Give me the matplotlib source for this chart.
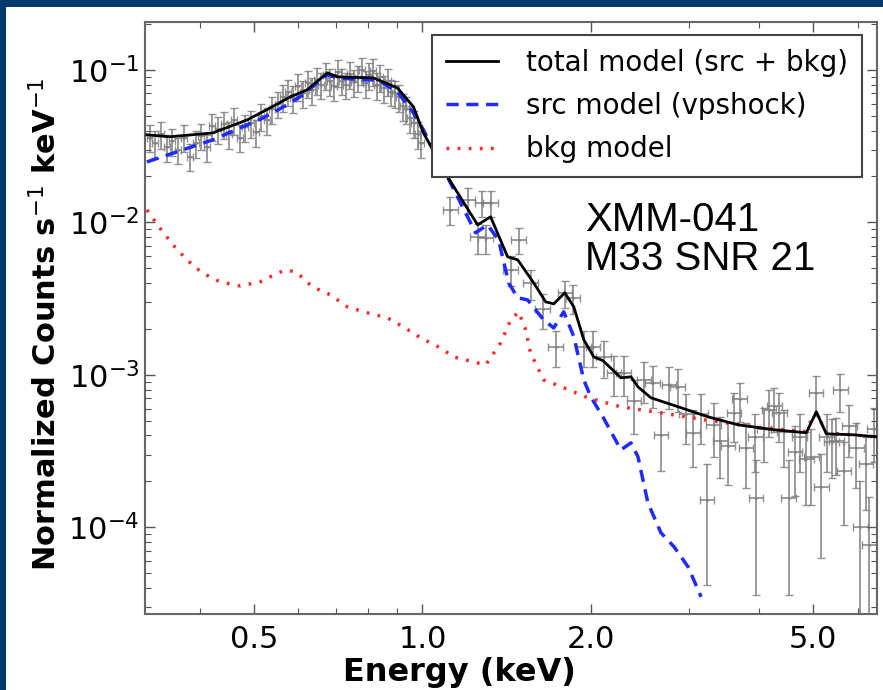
import numpy as np
import matplotlib
matplotlib.use("Agg")
import matplotlib.pyplot as plt
from matplotlib.patches import Rectangle
from matplotlib.ticker import FixedLocator, FixedFormatter, LogLocator, NullFormatter

# model curves (energy in keV, normalized counts s^-1 keV^-1)
tot_e = [0.3215, 0.3535, 0.422, 0.486, 0.534, 0.580, 0.622, 0.676, 0.704, 0.817, 0.902, 0.9636,
         1.004, 1.109, 1.255, 1.324, 1.420, 1.480, 1.581, 1.661, 1.717, 1.797, 1.865, 1.943, 2.025,
         2.102, 2.264, 2.360, 2.429, 2.562, 2.901, 3.242, 3.668, 4.256, 4.858, 5.063, 5.276, 5.922, 6.483]
tot_v = [0.0375, 0.0364, 0.0386, 0.047, 0.0563, 0.0665, 0.074, 0.0956, 0.090, 0.0886, 0.0762, 0.0572,
         0.0386, 0.0199, 0.00963, 0.01087, 0.00594, 0.00568, 0.00401, 0.00301, 0.00292, 0.00345, 0.00279,
         0.0017, 0.00131, 0.00124, 0.000956, 0.00097, 0.000834, 0.000707, 0.000608, 0.00053, 0.00047,
         0.000436, 0.000417, 0.000572, 0.00041, 0.000404, 0.000392]

src_e = [0.3215, 0.422, 0.519, 0.573, 0.612, 0.648, 0.676, 0.704, 0.784, 0.831, 0.902, 0.9636, 1.004,
         1.122, 1.245, 1.307, 1.368, 1.426, 1.480, 1.542, 1.647, 1.717, 1.789, 1.865, 1.943, 2.0,
         2.102, 2.264, 2.360, 2.429, 2.530, 2.670, 2.818, 2.986, 3.150]
src_v = [0.0249, 0.0348, 0.0484, 0.059, 0.0686, 0.0822, 0.0927, 0.0886, 0.086, 0.086, 0.0717, 0.0522,
         0.0404, 0.01816, 0.00853, 0.00963, 0.00768, 0.00401, 0.0032, 0.0031, 0.00229, 0.00203, 0.00259,
         0.00178, 0.000927, 0.000717, 0.00053, 0.000322, 0.000358, 0.00029, 0.000145, 9.2e-5, 7.45e-5,
         5.5e-5, 3.5e-5]

bkg_e = [0.3215, 0.339, 0.358, 0.379, 0.4034, 0.4345, 0.472, 0.5125, 0.552, 0.573, 0.597, 0.635, 0.684,
         0.734, 0.797, 0.866, 0.925, 0.992, 1.077, 1.137, 1.297, 1.380, 1.438, 1.486, 1.530, 1.561,
         1.647, 1.789, 1.976, 2.264, 2.670, 3.189, 3.920, 4.818, 5.063, 5.276, 6.483]
bkg_v = [0.01208, 0.0092, 0.00712, 0.00568, 0.00467, 0.00407, 0.00383, 0.00407, 0.00467, 0.00488,
         0.00467, 0.00378, 0.00335, 0.00279, 0.00255, 0.00236, 0.00206, 0.00175, 0.0015, 0.00131,
         0.00116, 0.00162, 0.00229, 0.00259, 0.00197, 0.00139, 0.000927, 0.000822, 0.000707, 0.000617,
         0.000563, 0.000507, 0.000456, 0.000423, 0.000563, 0.000417, 0.000392]

# observed spectrum
dat_e = [0.325, 0.333, 0.341, 0.349, 0.357, 0.366, 0.375, 0.384, 0.393, 0.402, 0.412, 0.421, 0.431,
         0.441, 0.451, 0.461, 0.471, 0.482, 0.493, 0.504, 0.515, 0.527, 0.539, 0.551, 0.563, 0.575,
         0.587, 0.599, 0.611, 0.623, 0.635, 0.647, 0.659, 0.671, 0.683, 0.695, 0.707, 0.719, 0.731,
         0.743, 0.755, 0.767, 0.779, 0.791, 0.803, 0.815, 0.828, 0.841, 0.854, 0.867, 0.880, 0.894,
         0.908, 0.922, 0.936, 0.950, 0.965, 0.980, 0.995,
         1.122, 1.204, 1.255, 1.280, 1.297, 1.324, 1.438, 1.486, 1.561, 1.64, 1.73, 1.80, 1.86,
         1.943, 2.02, 2.11, 2.20, 2.29, 2.39, 2.49, 2.58, 2.67, 2.76, 2.86, 2.96, 3.05, 3.15, 3.23,
         3.32, 3.41, 3.52, 3.61, 3.69, 3.79, 3.94, 3.95, 4.08, 4.17, 4.26, 4.35, 4.44, 4.52, 4.64,
         4.73, 4.86, 4.96, 5.06, 5.17, 5.28, 5.39, 5.50, 5.59, 5.68, 5.80, 5.97, 6.07, 6.22, 6.30, 6.43]
dat_v = [0.036, 0.033, 0.038, 0.031, 0.034, 0.030, 0.036, 0.027, 0.033, 0.037, 0.031, 0.043, 0.041,
         0.044, 0.038, 0.047, 0.036, 0.042, 0.045, 0.039, 0.050, 0.047, 0.055, 0.060, 0.066, 0.072,
         0.065, 0.078, 0.070, 0.082, 0.074, 0.086, 0.080, 0.092, 0.084, 0.078, 0.097, 0.085, 0.080,
         0.094, 0.083, 0.089, 0.100, 0.082, 0.092, 0.098, 0.079, 0.090, 0.076, 0.084, 0.072, 0.070,
         0.066, 0.058, 0.055, 0.048, 0.045, 0.038, 0.033,
         0.0121, 0.0141, 0.0080, 0.0134, 0.0079, 0.0134, 0.0049, 0.0077, 0.0040, 0.0027, 0.00153,
         0.00345, 0.0032,
         0.00153, 0.00153, 0.00131, 0.00103, 0.00103, 0.00067, 0.00093, 0.00088, 0.000404, 0.00086,
         0.00083, 0.00055, 0.000417, 0.00055, 0.000152, 0.00047, 0.00037, 0.00034, 0.00056, 0.00069,
         0.00033, 0.00039, 0.000156, 0.00044, 0.00059, 0.00062, 0.00056, 0.00042, 0.000156, 0.00031,
         0.00039, 0.00028, 0.00029, 0.00076, 0.000183, 0.00039, 0.00036, 0.00037, 0.00079, 0.000233,
         0.00046, 0.00033, 0.0001, 0.00026, 7.7e-5, 0.00044]
dat_err = [0.007] * 59 + \
          [0.0025, 0.0028, 0.0018, 0.0026, 0.0017, 0.0026, 0.0011, 0.0015, 0.0009, 0.0007, 0.0004,
           0.0007, 0.0007,
           0.0004, 0.0004, 0.00035, 0.0003, 0.0003, 0.00026, 0.00028, 0.00027, 0.00017, 0.00026,
           0.00026, 0.0002, 0.00017, 0.0002, 0.00011, 0.00018, 0.00016, 0.00015, 0.0002, 0.0002,
           0.00015, 0.00016, 0.00012, 0.00017, 0.0002, 0.0002, 0.0002, 0.00017, 0.00012, 0.00015,
           0.00016, 0.00014, 0.00015, 0.00022, 0.00012, 0.00016, 0.00015, 0.00015, 0.00022, 0.00013,
           0.00017, 0.00015, 0.0001, 0.00013, 8e-5, 0.00017]

dat_e = np.array(dat_e)
dat_v = np.array(dat_v)
dat_err = np.array(dat_err)
dat_err[:59] = dat_v[:59] * 0.2
xerr = np.where(dat_e < 1.05, 0.012, 0.03) * dat_e

fig = plt.figure(figsize=(8.83, 6.9), dpi=100)
fig.patch.set_facecolor("#003a6b")
fig.add_artist(Rectangle((6 / 883, 0), 1, 1 - 7 / 690, transform=fig.transFigure,
                         facecolor="white", edgecolor="none", zorder=0))

ax = fig.add_axes([145 / 883, 1 - 614 / 690, 732 / 883, 592 / 690])
ax.errorbar(dat_e, dat_v, yerr=dat_err, xerr=xerr, fmt=".", ms=2, color="#808080",
            ecolor="#808080", elinewidth=1.3, capsize=3, alpha=0.85, zorder=1)
ax.plot(tot_e, tot_v, color="black", lw=2, label="total model (src + bkg)", zorder=4)
ax.plot(src_e, src_v, color="#1f2bff", lw=2.5, ls=(0, (3.5, 2.2)), label="src model (vpshock)", zorder=3)
ax.plot(bkg_e, bkg_v, color="#ff2a2a", lw=2.5, ls=(0, (0.8, 2.4)), label="bkg model", zorder=3)

ax.set_xscale("log")
ax.set_yscale("log")
ax.set_xlim(0.319, 6.5)
ax.set_ylim(2.7e-5, 0.206)

ax.xaxis.set_major_locator(FixedLocator([0.5, 1.0, 2.0, 5.0]))
ax.xaxis.set_major_formatter(FixedFormatter(["0.5", "1.0", "2.0", "5.0"]))
ax.xaxis.set_minor_locator(LogLocator(base=10, subs=np.arange(2, 10) * 0.1, numticks=20))
ax.xaxis.set_minor_formatter(NullFormatter())
ax.yaxis.set_major_locator(FixedLocator([1e-4, 1e-3, 1e-2, 1e-1]))
ax.yaxis.set_major_formatter(FixedFormatter(["$10^{-4}$", "$10^{-3}$", "$10^{-2}$", "$10^{-1}$"]))
ax.yaxis.set_minor_locator(LogLocator(base=10, subs=np.arange(2, 10), numticks=20))
ax.yaxis.set_minor_formatter(NullFormatter())

ax.tick_params(which="both", direction="in", top=True, right=True, color="#555555")
ax.tick_params(which="major", length=7, width=1, labelsize=22, pad=8)
ax.tick_params(axis="y", which="major", pad=4)
ax.tick_params(which="minor", length=4, width=0.8)
for s in ax.spines.values():
    s.set_color("#666666")
    s.set_linewidth(1.5)

ax.set_xlabel("Energy (keV)", fontsize=23, fontweight="bold")
ax.xaxis.set_label_coords(0.43, -0.073)
ax.set_ylabel(r"Normalized Counts s$^{-1}$ keV$^{-1}$", fontsize=22, fontweight="bold")
ax.yaxis.set_label_coords(-0.113, 0.49)

leg = ax.legend(loc="upper right", fontsize=20, frameon=True, fancybox=False, framealpha=1,
                edgecolor="#444444", handlelength=1.9, handletextpad=1.0, borderpad=0.5,
                labelspacing=0.55, borderaxespad=0, bbox_to_anchor=(0.9795, 0.978))
leg.get_frame().set_linewidth(1.5)
leg.set_zorder(5)

ax.text(0.601, 0.581, "XMM-041\nM33 SNR 21", transform=ax.transAxes, fontsize=29,
        family="Liberation Sans", linespacing=1.05, va="baseline", ha="left", zorder=6)

fig.savefig("out.png", dpi=100, facecolor=fig.get_facecolor())
